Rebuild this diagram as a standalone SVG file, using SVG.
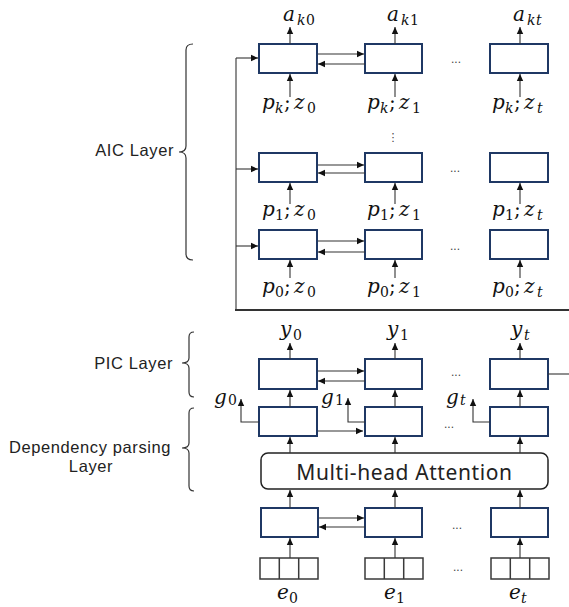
<svg xmlns="http://www.w3.org/2000/svg" width="569" height="607" viewBox="0 0 569 607">
<style>
.box{fill:#fff;stroke:#1f3864;stroke-width:2}
.emb{fill:#fff;stroke:#3a3a3a;stroke-width:1.5}
.ln{fill:none;stroke:#333;stroke-width:1.1}
.thick{fill:none;stroke:#333;stroke-width:2}
.ar{fill:none;stroke:#333;stroke-width:1.1;marker-end:url(#ah)}
.br{fill:none;stroke:#333;stroke-width:1.2}
.lbl{font-family:"Liberation Sans",Arial,sans-serif;font-size:16.5px;letter-spacing:0.6px;fill:#222}
.m{font-family:"DejaVu Serif","Liberation Serif",serif;font-style:italic;font-size:20px;fill:#111}
.s{font-size:14px}
.u{font-style:normal}
.dots{font-family:"Liberation Sans",Arial,sans-serif;font-size:12px;fill:#444}
</style>
<defs>
<marker id="ah" markerWidth="8" markerHeight="8" refX="7" refY="4" orient="auto" markerUnits="userSpaceOnUse">
<path d="M0,0.8 L7,4 L0,7.2 Z" fill="#111"/>
</marker>
</defs>

<g id="brackets">
<path class="br" d="M193,44 Q186,44 186,50 L186,146 Q186,152 179,152 Q186,152 186,158 L186,254 Q186,260 193,260"/>
<path class="br" d="M194,332 Q189,332 189,337 L189,358 Q189,363 182,363 Q189,363 189,368 L189,392 Q189,397 194,397"/>
<path class="br" d="M194,408 Q189,408 189,413 L189,443 Q189,448 182,448 Q189,448 189,453 L189,486 Q189,491 194,491"/>
<text class="lbl" x="174" y="156" text-anchor="end">AIC Layer</text>
<text class="lbl" x="173" y="369" text-anchor="end">PIC Layer</text>
<text class="lbl" x="90" y="453" text-anchor="middle">Dependency parsing</text>
<text class="lbl" x="91" y="472" text-anchor="middle">Layer</text>
</g>

<g id="aic-row-k">
<rect class="box" x="259" y="44" width="58" height="29"/>
<rect class="box" x="365" y="44" width="57" height="29"/>
<rect class="box" x="490" y="44" width="58" height="29"/>
</g>
<g id="aic-row-1">
<rect class="box" x="259" y="153" width="58" height="29"/>
<rect class="box" x="365" y="153" width="57" height="29"/>
<rect class="box" x="490" y="153" width="58" height="29"/>
</g>
<g id="aic-row-0">
<rect class="box" x="259" y="230" width="58" height="29"/>
<rect class="box" x="365" y="230" width="57" height="29"/>
<rect class="box" x="490" y="230" width="58" height="29"/>
</g>
<g id="pic-row">
<rect class="box" x="259" y="359" width="58" height="30"/>
<rect class="box" x="365" y="359" width="57" height="30"/>
<rect class="box" x="490" y="359" width="58" height="30"/>
</g>
<g id="dep-row">
<rect class="box" x="259" y="407" width="58" height="29"/>
<rect class="box" x="365" y="407" width="57" height="29"/>
<rect class="box" x="490" y="407" width="58" height="29"/>
</g>
<g id="attention">
<rect x="261" y="453" width="287" height="36" rx="7" fill="#fff" stroke="#222" stroke-width="1.5"/>
<text x="404.5" y="480" text-anchor="middle" font-family="'Noto Sans','Open Sans',sans-serif" font-size="21" fill="#222" letter-spacing="0.6">Multi-head Attention</text>
</g>
<g id="enc-row">
<rect class="box" x="261" y="508" width="57" height="29"/>
<rect class="box" x="365" y="508" width="57" height="29"/>
<rect class="box" x="491" y="508" width="57" height="29"/>
</g>
<g id="embeddings">
<rect class="emb" x="260" y="558" width="58" height="21"/>
<path class="emb" d="M279.3,558 V579 M298.7,558 V579"/>
<rect class="emb" x="365" y="558" width="58" height="21"/>
<path class="emb" d="M384.3,558 V579 M403.7,558 V579"/>
<rect class="emb" x="491" y="558" width="58" height="21"/>
<path class="emb" d="M510.3,558 V579 M529.7,558 V579"/>
</g>

<g id="connectors">
<path class="ar" d="M290,44 V27"/><path class="ar" d="M395,44 V27"/><path class="ar" d="M520,44 V27"/>
<path class="ar" d="M290,97 V74"/><path class="ar" d="M395,97 V74"/><path class="ar" d="M520,97 V74"/>
<path class="ar" d="M290,204 V183"/><path class="ar" d="M395,204 V183"/><path class="ar" d="M520,204 V183"/>
<path class="ar" d="M290,278 V260"/><path class="ar" d="M395,278 V260"/><path class="ar" d="M520,278 V260"/>
<path class="ar" d="M318,54 H364"/><path class="ar" d="M365,64 H318"/>
<path class="ar" d="M318,165 H364"/><path class="ar" d="M365,173 H318"/>
<path class="ar" d="M318,241 H364"/><path class="ar" d="M365,252 H318"/>
<path class="ln" d="M236,58 V310"/>
<path class="ar" d="M236,58 H258"/>
<path class="ar" d="M236,169 H258"/>
<path class="ar" d="M236,246 H258"/>
<path class="thick" d="M235,310 H570"/>
<path class="ln" d="M548,374 H570"/>
<path class="ar" d="M290,359 V343"/><path class="ar" d="M395,359 V343"/><path class="ar" d="M520,359 V343"/>
<path class="ar" d="M318,371 H364"/><path class="ar" d="M365,381 H318"/>
<path class="ar" d="M290,407 V390"/><path class="ar" d="M395,407 V390"/><path class="ar" d="M520,407 V390"/>
<path class="ar" d="M318,431 H363"/>
<path class="ar" d="M259,422 H241 V399"/>
<path class="ar" d="M365,422 H348 V398"/>
<path class="ar" d="M490,422 H473 V399"/>
<path class="ar" d="M290,453 V437"/><path class="ar" d="M395,453 V437"/><path class="ar" d="M520,453 V437"/>
<path class="ar" d="M290,508 V490"/><path class="ar" d="M395,508 V490"/><path class="ar" d="M520,508 V490"/>
<path class="ar" d="M319,518 H364"/><path class="ar" d="M365,527 H319"/>
<path class="ar" d="M290,558 V538"/><path class="ar" d="M395,558 V538"/><path class="ar" d="M520,558 V538"/>
</g>

<g id="dots">
<text class="dots" x="456" y="63" text-anchor="middle">...</text>
<text class="dots" x="455" y="172" text-anchor="middle">...</text>
<text class="dots" x="455" y="250" text-anchor="middle">...</text>
<text class="dots" x="456" y="376" text-anchor="middle">...</text>
<text class="dots" x="449" y="428" text-anchor="middle">...</text>
<text class="dots" x="457" y="529" text-anchor="middle">...</text>
<text class="dots" x="458" y="571" text-anchor="middle">...</text>
<text x="393" y="141" text-anchor="middle" font-family="'DejaVu Sans',sans-serif" font-size="11" fill="#444">⋮</text>
</g>

<g id="labels">
<text class="m" y="21"><tspan x="283">a</tspan><tspan class="s" x="297" dy="4">k</tspan><tspan class="s u" x="306">0</tspan></text>
<text class="m" y="21"><tspan x="387">a</tspan><tspan class="s" x="401" dy="4">k</tspan><tspan class="s u" x="410">1</tspan></text>
<text class="m" y="21"><tspan x="513">a</tspan><tspan class="s" x="527" dy="4">k</tspan><tspan class="s" x="536">t</tspan></text>

<text class="m" y="109"><tspan x="262">p</tspan><tspan class="s" x="275" dy="4">k</tspan><tspan class="u" x="284" dy="-4">;</tspan><tspan x="294">z</tspan><tspan class="s u" x="307" dy="4">0</tspan></text>
<text class="m" y="109"><tspan x="367">p</tspan><tspan class="s" x="380" dy="4">k</tspan><tspan class="u" x="389" dy="-4">;</tspan><tspan x="399">z</tspan><tspan class="s u" x="412" dy="4">1</tspan></text>
<text class="m" y="109"><tspan x="492">p</tspan><tspan class="s" x="505" dy="4">k</tspan><tspan class="u" x="514" dy="-4">;</tspan><tspan x="524">z</tspan><tspan class="s" x="537" dy="4">t</tspan></text>

<text class="m" y="216"><tspan x="262">p</tspan><tspan class="s u" x="275" dy="4">1</tspan><tspan class="u" x="284" dy="-4">;</tspan><tspan x="294">z</tspan><tspan class="s u" x="307" dy="4">0</tspan></text>
<text class="m" y="216"><tspan x="367">p</tspan><tspan class="s u" x="380" dy="4">1</tspan><tspan class="u" x="389" dy="-4">;</tspan><tspan x="399">z</tspan><tspan class="s u" x="412" dy="4">1</tspan></text>
<text class="m" y="216"><tspan x="492">p</tspan><tspan class="s u" x="505" dy="4">1</tspan><tspan class="u" x="514" dy="-4">;</tspan><tspan x="524">z</tspan><tspan class="s" x="537" dy="4">t</tspan></text>

<text class="m" y="293"><tspan x="262">p</tspan><tspan class="s u" x="275" dy="4">0</tspan><tspan class="u" x="284" dy="-4">;</tspan><tspan x="294">z</tspan><tspan class="s u" x="307" dy="4">0</tspan></text>
<text class="m" y="293"><tspan x="367">p</tspan><tspan class="s u" x="380" dy="4">0</tspan><tspan class="u" x="389" dy="-4">;</tspan><tspan x="399">z</tspan><tspan class="s u" x="412" dy="4">1</tspan></text>
<text class="m" y="293"><tspan x="492">p</tspan><tspan class="s u" x="505" dy="4">0</tspan><tspan class="u" x="514" dy="-4">;</tspan><tspan x="524">z</tspan><tspan class="s" x="537" dy="4">t</tspan></text>

<text class="m" y="336"><tspan x="280">y</tspan><tspan class="s u" x="293" dy="4">0</tspan></text>
<text class="m" y="336"><tspan x="387">y</tspan><tspan class="s u" x="400" dy="4">1</tspan></text>
<text class="m" y="336"><tspan x="511">y</tspan><tspan class="s" x="524" dy="4">t</tspan></text>

<text class="m" y="404"><tspan x="214">g</tspan><tspan class="s u" x="228" dy="1">0</tspan></text>
<text class="m" y="404"><tspan x="321">g</tspan><tspan class="s u" x="335" dy="1">1</tspan></text>
<text class="m" y="404"><tspan x="446">g</tspan><tspan class="s" x="460" dy="1">t</tspan></text>

<text class="m" y="599"><tspan x="277">e</tspan><tspan class="s u" x="289" dy="4">0</tspan></text>
<text class="m" y="599"><tspan x="384">e</tspan><tspan class="s u" x="396" dy="4">1</tspan></text>
<text class="m" y="599"><tspan x="509">e</tspan><tspan class="s" x="521" dy="4">t</tspan></text>
</g>
</svg>
